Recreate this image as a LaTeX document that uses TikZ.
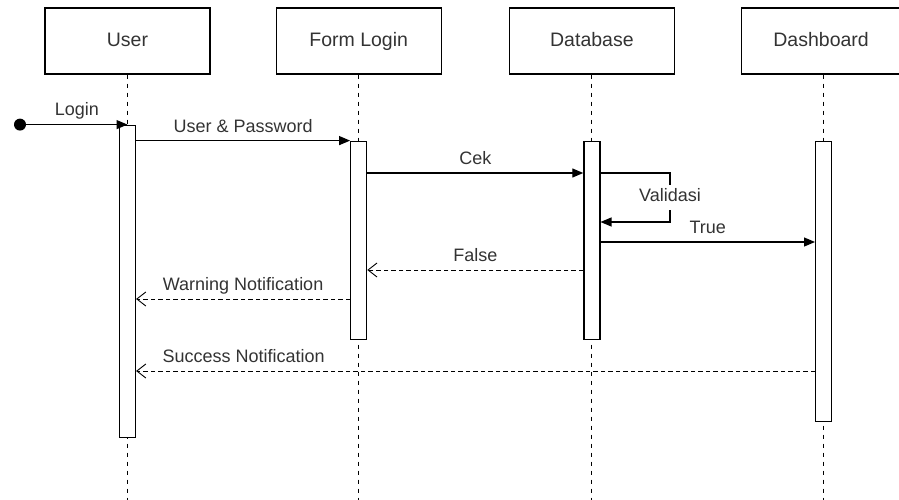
\documentclass[tikz,border=0pt]{standalone}
\usepackage{fontspec}
\setmainfont{Liberation Sans}
\usetikzlibrary{arrows.meta, positioning}

\begin{document}
\begin{tikzpicture}[
      x=1pt, y=-1pt,
      head/.style={rectangle, draw, line width=1.2pt, minimum width=165pt, minimum height=66pt, font=\fontsize{19.5}{22}\selectfont, text=black!80, text height=12pt, text depth=0pt},
      bar/.style={rectangle, draw, line width=1.2pt, fill=white, minimum width=16pt, inner sep=0pt},
      life/.style={dash pattern=on 4.5pt off 4.5pt, line width=0.9pt},
      msg/.style={-{Triangle[length=11pt, width=9pt]}, line width=1.2pt},
      reply/.style={-{Straight Barb[length=9pt, width=14pt]}, dash pattern=on 4.5pt off 3pt, line width=0.9pt},
      lbl/.style={font=\fontsize{18}{20}\selectfont, text=black!80, inner sep=2pt, text height=13pt, text depth=4pt},
      dot/.style={circle, fill, minimum size=12pt, inner sep=0pt}
    ]
    \useasboundingbox (0,0) rectangle (899,500);
    \coordinate (bottom) at (0,500);

    % heads
    \node[head] (user) at (127.5,41) {User};
    \node[head, right=65pt of user] (form) {Form Login};
    \node[head, right=67pt of form] (db) {Database};
    \node[head, minimum width=159pt, right=66pt of db] (dash) {Dashboard};

    % lifelines
    \draw[life] (user.south) -- (user.south |- bottom);
    \draw[life] (form.south) -- (form.south |- bottom);
    \draw[life] (db.south) -- (db.south |- bottom);
    \draw[life] ([xshift=2.5pt]dash.south) -- ([xshift=2.5pt]dash.south |- bottom);

    % activations
    \node[bar, minimum height=312pt, below=50pt of user] (ua) {};
    \node[bar, minimum height=198pt, below=66pt of form] (fa) {};
    \node[bar, minimum height=198pt, below=66pt of db] (da) {};
    \node[bar, minimum height=280pt, below=66pt of dash, xshift=2.5pt] (sa) {};

    % messages
    \node[dot, anchor=center] (start) at (20,0 |- ua.north) {};
    \coordinate (cek) at (0,173);
    \coordinate (val) at (0,222);
    \coordinate (tru) at (0,242);
    \coordinate (fal) at (0,270);
    \coordinate (warn) at (0,299);
    \coordinate (succ) at (0,371);

    \draw[msg] (start) -- (ua.north) node[lbl, midway, above=2pt] {Login};
    \draw[msg] (ua.east |- fa.north) -- (fa.north west) node[lbl, midway, above=2pt] {User \& Password};
    \draw[msg] (fa.east |- cek) -- (da.west |- cek) node[lbl, midway, above=2pt] {Cek};
    \draw[msg] (da.east |- cek) -| (670,197) node[lbl, fill=white, inner ysep=4pt] {Validasi} |- (da.east |- val);
    \draw[msg] (da.east |- tru) -- (sa.west |- tru) node[lbl, midway, above=2pt] {True};
    \draw[reply] (da.west |- fal) -- (fa.east |- fal) node[lbl, midway, above=2pt] {False};
    \draw[reply] (fa.west |- warn) -- (ua.east |- warn) node[lbl, midway, above=2pt] {Warning Notification};
    \draw[reply] (sa.west |- succ) -- (ua.east |- succ) node[lbl, pos=1, above right=2pt and 24pt] {Success Notification};
\end{tikzpicture}
\end{document}
